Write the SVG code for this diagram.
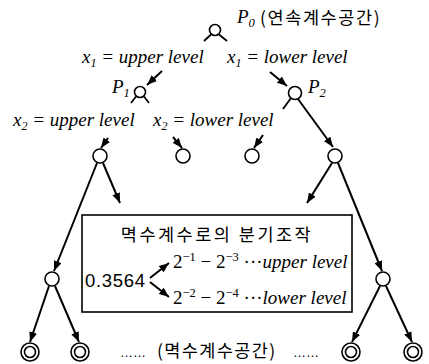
<svg xmlns="http://www.w3.org/2000/svg" width="429" height="364" viewBox="0 0 429 364">
<defs>
<marker id="ah" markerUnits="userSpaceOnUse" markerWidth="10" markerHeight="8" refX="10" refY="4" orient="auto"><path d="M0,0 L10,4 L0,8 z" fill="#000"/></marker>
<style>
.n{fill:#fff;stroke:#000;stroke-width:1.6}
.leg{stroke:#000;stroke-width:1.8;fill:none}
.c{stroke:#000;stroke-width:2;fill:none;marker-end:url(#ah)}
.m{font-family:'Liberation Serif','Times New Roman','DejaVu Serif',serif;font-style:italic;font-size:19px;fill:#000}
.k{font-family:'Noto Sans CJK KR','Noto Sans',sans-serif;fill:#000}
.s{font-family:'Liberation Serif','Times New Roman','DejaVu Serif',serif;fill:#000}
.a{font-family:'Liberation Sans',Arial,sans-serif;fill:#000}
</style>
</defs>
<rect width="429" height="364" fill="#fff"/>
<g id="P0">
<circle class="n" cx="215" cy="30" r="5.5"/>
<path class="leg" d="M211,34.5 L204,41 M219,34.5 L227,41"/>
<text class="m" x="237" y="23" font-size="20">P<tspan font-size="12.5" dy="4">0</tspan></text>
<text class="k" x="260" y="24" font-size="17.5" letter-spacing="1.6">(연속계수공간)</text>
</g>
<g id="labels-x1">
<text class="m" x="82" y="63">x<tspan font-size="12" dy="4">1</tspan><tspan dy="-4"> = upper level</tspan></text>
<text class="m" x="227" y="63">x<tspan font-size="12" dy="4">1</tspan><tspan dy="-4"> = lower level</tspan></text>
</g>
<g id="P1">
<circle class="n" cx="140" cy="92" r="5.5"/>
<path class="leg" d="M136,96.5 L131,103 M144,96.5 L149,103"/>
<text class="m" x="112" y="93" font-size="20">P<tspan font-size="12.5" dy="4">1</tspan></text>
</g>
<g id="P2">
<circle class="n" cx="295" cy="93" r="6.5"/>
<path class="leg" d="M291,98 L283,109"/>
<text class="m" x="308" y="93" font-size="20">P<tspan font-size="12.5" dy="4">2</tspan></text>
</g>
<g id="labels-x2">
<text class="m" x="13" y="126">x<tspan font-size="12" dy="4">2</tspan><tspan dy="-4"> = upper level</tspan></text>
<text class="m" x="153" y="126">x<tspan font-size="12" dy="4">2</tspan><tspan dy="-4"> = lower level</tspan></text>
</g>
<g id="n2a"><circle class="n" cx="100" cy="156" r="7"/></g>
<g id="n2b"><circle class="n" cx="183" cy="156" r="7"/></g>
<g id="n2c"><circle class="n" cx="252" cy="156" r="7"/></g>
<g id="n2d"><circle class="n" cx="335" cy="156" r="7"/></g>
<g id="n3a"><circle class="n" cx="52" cy="279" r="7"/></g>
<g id="n3b"><circle class="n" cx="383" cy="279" r="7"/></g>
<g id="leaf1"><circle class="n" cx="30" cy="352" r="9"/><circle class="n" cx="30" cy="352" r="5.5"/></g>
<g id="leaf2"><circle class="n" cx="80" cy="352" r="9"/><circle class="n" cx="80" cy="352" r="5.5"/></g>
<g id="leaf3"><circle class="n" cx="351" cy="352" r="9"/><circle class="n" cx="351" cy="352" r="5.5"/></g>
<g id="leaf4"><circle class="n" cx="413" cy="352" r="9"/><circle class="n" cx="413" cy="352" r="5.5"/></g>
<g id="box">
<rect x="82" y="215" width="270" height="97" fill="#fff" stroke="#000" stroke-width="1.6"/>
<text class="k" x="217" y="241" font-size="17.5" letter-spacing="2.5" text-anchor="middle">멱수계수로의 분기조작</text>
<text class="a" x="85" y="287" font-size="18.5" textLength="60" lengthAdjust="spacing">0.3564</text>
<text class="s" x="173" y="268" font-size="19">2<tspan font-size="12.5" dy="-7">−1</tspan><tspan dy="7"> − 2</tspan><tspan font-size="12.5" dy="-7">−3</tspan><tspan dy="7"> ···</tspan><tspan font-style="italic">upper level</tspan></text>
<text class="s" x="173" y="304" font-size="19">2<tspan font-size="12.5" dy="-7">−2</tspan><tspan dy="7"> − 2</tspan><tspan font-size="12.5" dy="-7">−4</tspan><tspan dy="7"> ···</tspan><tspan font-style="italic">lower level</tspan></text>
</g>
<g id="footer">
<text class="a" x="120" y="357" font-size="13">……</text>
<text class="k" x="157" y="357" font-size="17.5" letter-spacing="1.4">(멱수계수공간)</text>
<text class="a" x="293" y="357" font-size="13">……</text>
</g>
<g id="connectors">
<path class="c" d="M162,71 L147,85"/>
<path class="c" d="M270,72 L287,86"/>
<path class="c" d="M298,99 L333,147"/>
<path class="c" d="M108,138 L101,148"/>
<path class="c" d="M173,137 L182,148"/>
<path class="c" d="M263,135 L254,148"/>
<path class="c" d="M103,163 L120,203"/>
<path class="c" d="M97,163 L54,271"/>
<path class="c" d="M332,163 L307,203"/>
<path class="c" d="M338,163 L382,271"/>
<path class="c" d="M49,286 L30,342"/>
<path class="c" d="M55,286 L79,342"/>
<path class="c" d="M380,286 L352,342"/>
<path class="c" d="M386,286 L412,342"/>
<path class="c" d="M150,278 L169,263"/>
<path class="c" d="M150,282 L169,297"/>
</g>
</svg>
